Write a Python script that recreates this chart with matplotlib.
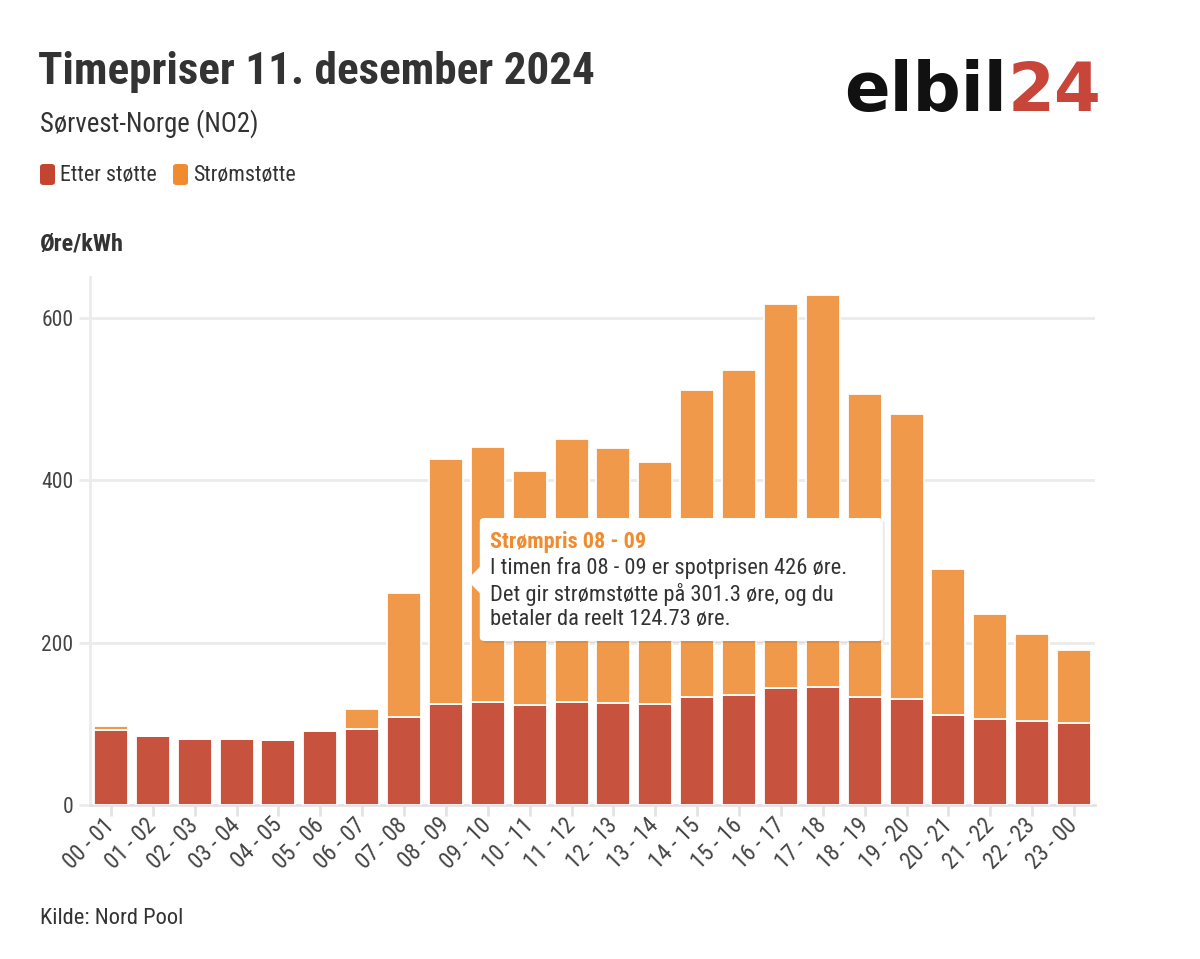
import matplotlib
matplotlib.use("Agg")
import matplotlib.pyplot as plt
from matplotlib import font_manager as fm
from matplotlib.patches import FancyBboxPatch, Polygon
import matplotlib.transforms as mtransforms
import numpy as np

# ---------------- data ----------------
hours = ["00 - 01", "01 - 02", "02 - 03", "03 - 04", "04 - 05", "05 - 06",
         "06 - 07", "07 - 08", "08 - 09", "09 - 10", "10 - 11", "11 - 12",
         "12 - 13", "13 - 14", "14 - 15", "15 - 16", "16 - 17", "17 - 18",
         "18 - 19", "19 - 20", "20 - 21", "21 - 22", "22 - 23", "23 - 00"]
etter_stotte = [91.9, 85.5, 81.5, 81.5, 80.5, 91.0, 93.9, 108.2, 124.73, 126.2,
                123.3, 127.2, 126.1, 124.4, 133.2, 135.7, 143.8, 144.9, 132.8,
                130.3, 111.1, 105.6, 103.1, 101.2]
stromstotte = [5.4, 0, 0, 0, 0, 0, 23.9, 152.5, 301.3, 314.3, 288.4, 323.5,
               313.9, 298.4, 377.8, 399.6, 473.2, 482.8, 373.5, 351.2, 179.1,
               129.2, 107.1, 89.3]
yticks = [0, 200, 400, 600]
legend_labels = ["Etter støtte", "Strømstøtte"]

title = "Timepriser 11. desember 2024"
subtitle = "Sørvest-Norge (NO2)"
unit = "Øre/kWh"
source = "Kilde: Nord Pool"
tip_title = "Strømpris 08 - 09"
tip_lines = ["I timen fra 08 - 09 er spotprisen 426 øre.",
             "Det gir strømstøtte på 301.3 øre, og du",
             "betaler da reelt 124.73 øre."]
tip_index = 8

# ---------------- style ----------------
names = {f.name for f in fm.fontManager.ttflist}
FONT = "DejaVu Sans"
for cand in ["Roboto Condensed", "Liberation Sans Narrow", "Roboto"]:
    if cand in names:
        FONT = cand
        break
plt.rcParams["font.family"] = [FONT, "DejaVu Sans"]

RED = "#C7533F"
ORANGE = "#F0994B"
RED_LEG = "#C4452F"
ORANGE_LEG = "#F08B30"
TXT = "#333333"
GRID = "#EBEBEB"

W, H = 1200, 959
fig = plt.figure(figsize=(W / 100, H / 100), dpi=100)
fig.patch.set_facecolor("white")

def fx(x):
    return x / W

def fy(y):
    return 1 - y / H

ax_l, ax_r, ax_t, ax_b = 90, 1095, 277, 805
ax = fig.add_axes([fx(ax_l), fy(ax_b), (ax_r - ax_l) / W, (ax_b - ax_t) / H])

x = np.arange(len(hours))
ax.bar(x, etter_stotte, width=0.81, color=RED, edgecolor="white",
       linewidth=1.3, zorder=3)
ax.bar(x, stromstotte, bottom=etter_stotte, width=0.81, color=ORANGE,
       edgecolor="white", linewidth=1.3, zorder=3)

ax.set_xlim(-0.5, len(hours) - 0.5)
ax.set_ylim(0, 650)
ax.set_yticks(yticks)
ax.set_yticklabels([str(v) for v in yticks])
ax.set_xticks(x)
ax.set_xticklabels(hours, rotation=45, ha="right", va="center",
                   rotation_mode="anchor")
for lab in ax.get_xticklabels():
    lab.set_transform(lab.get_transform() +
                      mtransforms.ScaledTranslation(10 / 100, -5 / 100,
                                                    fig.dpi_scale_trans))

ax.grid(axis="y", color=GRID, linewidth=2, zorder=0)
ax.set_axisbelow(True)
for s in ["top", "right"]:
    ax.spines[s].set_visible(False)
ax.spines["left"].set_color(GRID)
ax.spines["left"].set_linewidth(2)
ax.spines["bottom"].set_color("#E3E3E3")
ax.spines["bottom"].set_linewidth(2)
ax.tick_params(axis="y", length=8, width=2, color=GRID, labelsize=15.5,
               labelcolor="#444444", pad=4)
ax.tick_params(axis="x", length=8, width=2, color="#E3E3E3", labelsize=16.5,
               labelcolor="#444444", pad=4)

# ---------------- texts ----------------
fig.text(fx(38), fy(72), title, fontsize=32.5, fontweight="bold", color=TXT,
         va="center", ha="left")
fig.text(fx(40), fy(124), subtitle, fontsize=19.3, color=TXT, va="center",
         ha="left")
fig.text(fx(40), fy(244), unit, fontsize=17.5, fontweight="bold", color=TXT,
         va="center", ha="left")
fig.text(fx(40), fy(918), source, fontsize=16.2, color=TXT, va="center",
         ha="left")

# legend
leg_x = [40, 173]
for lx, lab, col in zip(leg_x, legend_labels, [RED_LEG, ORANGE_LEG]):
    fig.patches.append(FancyBboxPatch((fx(lx), fy(185)), 15 / W, 21 / H,
                                      boxstyle="round,pad=0,rounding_size=0.003",
                                      transform=fig.transFigure,
                                      facecolor=col, edgecolor="none"))
    fig.text(fx(lx + 20), fy(175), lab, fontsize=15.8, color=TXT, va="center",
             ha="left")

# logo
logo1 = fig.text(fx(844), fy(92), "elbil", fontsize=48.5, fontweight="bold",
                 family=["DejaVu Sans"], color="#111111",
                 va="center", ha="left")
fig.canvas.draw()
bb = logo1.get_window_extent()
fig.text(bb.x1 / W + fx(1), fy(92), "24", fontsize=48.5, fontweight="bold",
         family=["DejaVu Sans"], color="#C8453A", va="center",
         ha="left")

# ---------------- tooltip ----------------
anchor_disp = ax.transData.transform((tip_index + 0.45, 0))
px0 = anchor_disp[0]
bx0 = px0 + 15
box_l, box_t, box_w, box_h = bx0, 518, 403, 123
shadow = FancyBboxPatch((fx(box_l + 2), fy(box_t + box_h + 2)), box_w / W, box_h / H,
                        boxstyle="round,pad=0,rounding_size=0.004",
                        transform=fig.transFigure, facecolor="#000000",
                        alpha=0.08, edgecolor="none", zorder=10)
fig.patches.append(shadow)
box = FancyBboxPatch((fx(box_l), fy(box_t + box_h)), box_w / W, box_h / H,
                     boxstyle="round,pad=0,rounding_size=0.004",
                     transform=fig.transFigure, facecolor="white",
                     edgecolor="none", zorder=11)
fig.patches.append(box)
tri = Polygon([(fx(box_l + 1), fy(566)), (fx(px0 + 2), fy(580)),
               (fx(box_l + 1), fy(594))], closed=True,
              transform=fig.transFigure, facecolor="white", edgecolor="none",
              zorder=11)
fig.patches.append(tri)
fig.text(fx(box_l + 10), fy(542), tip_title, fontsize=16, fontweight="bold",
         color="#F08B30", va="center", ha="left", zorder=12)
for i, line in enumerate(tip_lines):
    fig.text(fx(box_l + 10), fy(568 + 26 * i), line, fontsize=16.2, color=TXT,
             va="center", ha="left", zorder=12)

fig.savefig("out.png", dpi=100, facecolor="white")
